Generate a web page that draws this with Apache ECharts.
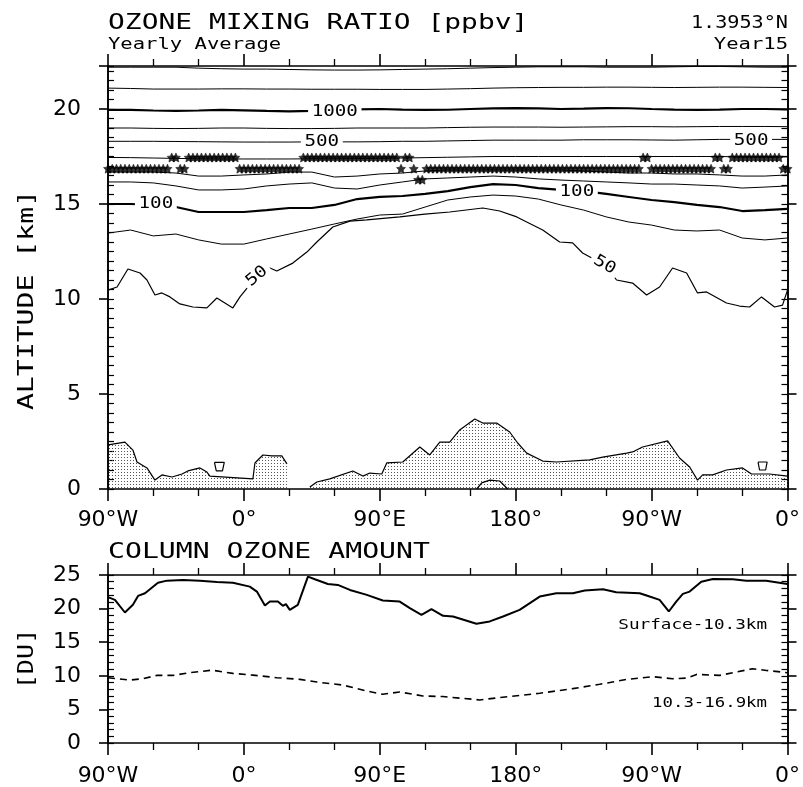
<!DOCTYPE html>
<html>
<head>
<meta charset="utf-8">
<script src="https://cdn.jsdelivr.net/npm/echarts@6/dist/echarts.min.js"></script>
<style>
html, body { margin: 0; padding: 0; background: #fff; }
#main { width: 803px; height: 787px; }
</style>
</head>
<body>
<div id="main"></div>
<script>
// longitude tick labels (-90 .. 360 every 90)
const lonTickLabels = ['90°W', '0°', '90°E', '180°', '90°W', '0°'];

// contour lines, altitude [km] on a 15 deg longitude grid
const lonGrid = [-90,-75,-60,-45,-30,-15,0,15,30,45,60,75,90,105,120,135,150,165,180,195,210,225,240,255,270,285,300,315,330,345,360];
const cTop1 = [22.2,22.2,22.2,22.2,22.15,22.12,22.1,22.1,22.08,22.06,22.05,22.05,22.06,22.08,22.1,22.12,22.15,22.18,22.2,22.22,22.22,22.22,22.2,22.2,22.2,22.22,22.24,22.24,22.22,22.2,22.2];
const cTop2 = [21.1,21.08,21.05,21.05,21.05,21.06,21.06,21.05,21.05,21.04,21.04,21.04,21.03,21.03,21.03,21.05,21.07,21.1,21.12,21.13,21.14,21.14,21.15,21.15,21.14,21.13,21.14,21.15,21.15,21.14,21.13];
const c1000 = [19.95,19.95,19.92,19.9,19.92,19.95,19.93,19.9,19.88,19.9,19.95,19.98,20.0,19.97,19.95,19.96,20.0,20.03,20.05,20.03,20.0,20.02,20.05,20.04,20.0,19.97,19.95,19.97,20.0,20.0,19.98];
const c700 = [19.0,19.0,18.98,18.97,18.98,19.0,19.0,18.98,18.97,18.97,18.98,19.0,19.0,19.0,19.0,19.02,19.04,19.05,19.05,19.05,19.04,19.05,19.06,19.07,19.07,19.06,19.07,19.08,19.08,19.08,19.07];
const c500 = [18.3,18.3,18.3,18.29,18.28,18.27,18.26,18.26,18.26,18.27,18.27,18.27,18.28,18.3,18.3,18.32,18.34,18.36,18.36,18.36,18.36,18.38,18.38,18.38,18.37,18.36,18.38,18.4,18.4,18.4,18.4];
const c400 = [17.45,17.44,17.42,17.4,17.38,17.37,17.37,17.37,17.37,17.38,17.38,17.39,17.4,17.42,17.44,17.46,17.48,17.5,17.5,17.5,17.5,17.5,17.5,17.5,17.5,17.5,17.5,17.5,17.48,17.48,17.48];
const c300 = [16.68,16.68,16.68,16.63,16.47,16.47,16.53,16.58,16.68,16.68,16.42,16.47,16.58,16.63,16.74,16.79,16.79,16.79,16.79,16.79,16.79,16.74,16.68,16.63,16.63,16.58,16.58,16.53,16.47,16.47,16.53];
const c200 = [16.16,16.16,16.11,15.95,15.74,15.74,15.79,15.95,16.05,16.11,15.84,15.79,16.0,16.16,16.32,16.37,16.42,16.47,16.42,16.32,16.26,16.21,16.16,16.11,16.05,16.05,16.0,15.95,15.84,15.89,15.95];
const c100 = [15.0,15.0,14.95,14.84,14.58,14.58,14.58,14.68,14.79,14.79,14.95,15.26,15.37,15.42,15.53,15.68,15.89,16.05,16.0,15.84,15.74,15.68,15.53,15.37,15.21,15.1,14.95,14.84,14.63,14.68,14.74];
const c70 = [13.47,13.63,13.32,13.42,13.11,12.89,12.89,13.16,13.42,13.68,13.95,14.21,14.42,14.47,14.84,15.21,15.37,15.47,15.42,15.26,14.95,14.68,14.32,14.05,13.89,13.63,13.58,13.63,13.21,13.11,13.21];

// 50 ppbv contour has its own (irregular) longitudes
const c50Lon = [-90,-84,-76.8,-68.8,-64.2,-58.9,-54.3,-49,-42.4,-33.8,-24.5,-17.9,-12.6,-7.3,-2.6,8.6,17.2,21.8,32.4,41.7,48.3,58.9,70.2,81.4,103.2,119.8,136.3,158.2,169.4,180.7,187.3,197.9,209.1,217.7,224.3,238.9,246.8,257.4,266.7,275.3,283.9,293.2,300.4,306.4,319.6,328.2,334.9,342.8,351.4,356.7,360];
const c50Alt = [10.47,10.63,11.58,11.37,11.0,10.21,10.32,10.11,9.74,9.58,9.53,10.05,9.79,9.53,10.11,11.2,11.63,11.47,11.89,12.47,13.0,13.79,14.1,14.16,14.32,14.47,14.58,14.79,14.63,14.32,14.05,13.63,13.0,12.95,12.42,11.79,11.0,10.84,10.21,10.63,11.63,11.37,10.32,10.37,9.79,9.63,9.58,10.11,9.58,9.68,10.47];

// surface topography [km]
const terrWestLon = [-90,-78.8,-73.5,-70.8,-64.2,-58.9,-54.3,-47.6,-41,-37.1,-29.1,-24.5,-22.5,5.96,7.3,12.6,18.5,25.1,28.5];
const terrWestAlt = [2.32,2.47,2.05,1.42,1.11,0.47,0.74,0.63,0.79,0.95,1.11,0.89,0.68,0.53,1.37,1.79,1.74,1.74,1.32];
const terrEastLon = [43.7,48.3,56.9,72.1,78.8,83.4,91.3,94.6,105.2,116.5,123.1,129.7,136.3,142.9,152.9,158.2,167.4,176,181.3,187.3,197.9,207.1,229,237.6,253.5,257.4,264,280.6,288.5,295.2,300.4,303.8,310.4,319.6,330.2,336.2,348.1,360];
const terrEastAlt = [0.1,0.37,0.53,0.95,0.68,0.84,0.79,1.37,1.42,2.21,1.79,2.47,2.47,3.11,3.68,3.47,3.47,3.0,2.42,1.89,1.47,1.42,1.53,1.68,1.89,1.95,2.21,2.53,1.63,1.16,0.47,0.74,0.74,1.0,1.11,0.79,0.79,0.68];
const humpLon = [154.2,157.5,162.8,169.4,174.7];
const humpAlt = [0,0.32,0.47,0.42,0];
const loopWestLon = [-19.5,-13,-14.2,-18.3,-19.5];
const loopWestAlt = [1.4,1.4,0.95,0.95,1.4];
const loopEastLon = [340.5,346.5,345.5,341.5,340.5];
const loopEastAlt = [1.42,1.42,1.0,1.0,1.42];

// tropopause markers: runs of [count, altitude] on the T42 grid
const tropoStart = -90;
const tropoStep = 2.8125;
const tropoRuns = [[15,16.86],[2,17.45],[2,16.86],[12,17.45],[15,16.86],[23,17.45],[1,16.86],[2,17.45],[1,16.86],[2,16.28],[51,16.86],[2,17.45],[15,16.86],[2,17.45],[2,16.86],[12,17.45],[2,16.86]];

// contour labels
const contourLabels = [
    { text: '1000', lon: 60.2, alt: 19.85, rot: 0 },
    { text: '500', lon: 51.6, alt: 18.29, rot: 0 },
    { text: '500', lon: 335.9, alt: 18.34, rot: 0 },
    { text: '100', lon: -58.3, alt: 15.0, rot: 0 },
    { text: '100', lon: 220.5, alt: 15.66, rot: 0 },
    { text: '50', lon: 8.6, alt: 11.2, rot: 40 },
    { text: '50', lon: 238.9, alt: 11.79, rot: -30 }
];

// column ozone [DU]
const surfLon = [-90,-85.4,-78.8,-73.5,-70.1,-65.5,-56.9,-51,-40.4,-29.1,-17.9,-7.3,3.9,8.6,13.9,17.2,22.5,25.8,27.8,30.4,35.7,42.4,47,55.6,62.2,70.2,81.4,92,103.2,109.9,117.6,124.2,131.9,138.5,154,162.8,171.6,182.6,195.9,206.9,217.9,225.7,237.8,246.6,262.1,268.7,275.3,281.4,286.3,290.7,295.2,302.9,310.6,323.8,332.7,345.9,360];
const surfDU = [21.7,21.3,19.42,20.56,21.89,22.29,23.86,24.16,24.26,24.16,23.96,23.86,23.27,22.53,20.46,21.05,21.05,20.41,20.67,19.82,20.56,24.75,24.36,23.67,23.52,22.78,22.04,21.2,21.05,20.07,19.08,19.93,18.93,18.83,17.75,18.09,18.83,19.82,21.79,22.29,22.29,22.68,22.88,22.44,22.29,21.79,21.3,19.57,21.05,22.19,22.53,24.01,24.41,24.36,24.16,24.16,23.67];
const upperLon = [-90,-75.4,-66.8,-57.6,-47,-35.7,-21.2,-7.3,6,21.8,37.1,48.3,65.5,81.4,92,103.2,118.5,131.7,156.2,169.4,195.9,217.7,235.6,253.5,270.7,283.9,293.2,299.8,315,336.8,346.1,360];
const upperDU = [9.72,9.36,9.57,10.06,10.06,10.46,10.84,10.36,10.1,9.72,9.47,9.07,8.62,7.74,7.25,7.59,7.0,6.91,6.41,6.76,7.4,8.09,8.73,9.47,9.87,9.57,9.66,10.21,10.06,11.05,10.8,10.46];

const pairs = (xs, ys) => xs.map((x, i) => [x, ys[i]]);

let main = document.querySelector('#main');
let chart = echarts.init(main, null, { renderer: 'canvas' });

// stippled fill for topography
let dots = document.createElement('canvas');
dots.width = 3;
dots.height = 3;
let dctx = dots.getContext('2d');
dctx.fillStyle = '#555';
dctx.fillRect(1, 1, 1, 1);

const ink = '#000';
const MONO = '"DejaVu Sans Mono"';
const topMax = 423 / 19;

function xAxes(gi, margin) {
    let base = {
        gridIndex: gi, type: 'value', min: -90, max: 360, interval: 90,
        axisLine: { show: true, onZero: false, lineStyle: { color: ink, width: 1.6 } },
        axisTick: { show: true, length: 12, lineStyle: { color: ink, width: 1.6 } },
        minorTick: { show: true, splitNumber: 3, length: 7, lineStyle: { color: ink, width: 1.3 } },
        splitLine: { show: false }
    };
    return [
        Object.assign({}, base, {
            position: 'bottom',
            axisLabel: {
                color: ink, fontSize: 22, fontFamily: 'DejaVu Sans', margin: margin,
                formatter: v => lonTickLabels[Math.round((v + 90) / 90)] || ''
            }
        }),
        Object.assign({}, base, { position: 'top', axisLabel: { show: false } })
    ];
}

function yAxes(gi, max, minorStep) {
    let line = { show: true, onZero: false, lineStyle: { color: ink, width: 1.6 } };
    let out = [];
    ['left', 'right'].forEach(pos => {
        out.push({
            gridIndex: gi, type: 'value', min: 0, max: max, interval: 5, position: pos,
            axisLine: line,
            axisTick: { show: true, length: 9, lineStyle: { color: ink, width: 1.6 } },
            axisLabel: {
                show: pos === 'left', color: ink, fontSize: 22, fontFamily: 'DejaVu Sans', margin: 27,
                formatter: v => (Math.abs(v % 5) < 1e-9 ? String(v) : '')
            },
            splitLine: { show: false }
        });
        out.push({
            gridIndex: gi, type: 'value', min: 0, max: max, interval: minorStep, position: pos,
            axisLine: line,
            axisTick: { show: true, inside: true, length: 6, lineStyle: { color: ink, width: 1.2 } },
            axisLabel: { show: false },
            splitLine: { show: false }
        });
    });
    return out;
}

function contour(alts, width) {
    return {
        type: 'line', xAxisIndex: 0, yAxisIndex: 0, data: pairs(lonGrid, alts),
        symbol: 'none', silent: true, z: 4,
        lineStyle: { color: ink, width: width }
    };
}

let tropo = [];
let k = 0;
tropoRuns.forEach(r => {
    for (let i = 0; i < r[0]; i++) {
        tropo.push([tropoStart + k * tropoStep, r[1]]);
        k++;
    }
});

const star = 'path://M0,-10L2.9,-4L9.5,-3.1L4.7,1.5L5.9,8.1L0,5L-5.9,8.1L-4.7,1.5L-9.5,-3.1L-2.9,-4Z';

let option = {
    animation: false,
    backgroundColor: '#fff',
    grid: [
        { left: 108, top: 66, width: 680, height: 423 },
        { left: 108, top: 575, width: 680, height: 169 }
    ],
    xAxis: xAxes(0, 20).concat(xAxes(1, 22)),
    yAxis: yAxes(0, topMax, 0.5).concat(yAxes(1, 25, 1)),
    series: [
        contour(cTop1, 1),
        contour(cTop2, 1),
        contour(c1000, 2.2),
        contour(c700, 1),
        contour(c500, 1),
        contour(c400, 1),
        contour(c300, 1),
        contour(c200, 1),
        contour(c100, 2.2),
        contour(c70, 1),
        {
            type: 'line', xAxisIndex: 0, yAxisIndex: 0, data: pairs(c50Lon, c50Alt),
            symbol: 'none', silent: true, z: 4, lineStyle: { color: ink, width: 1.2 }
        },
        {
            type: 'line', xAxisIndex: 0, yAxisIndex: 0, data: pairs(terrWestLon, terrWestAlt),
            symbol: 'none', silent: true, z: 2, lineStyle: { color: ink, width: 1.2 },
            areaStyle: { color: { image: dots, repeat: 'repeat' }, opacity: 1 }
        },
        {
            type: 'line', xAxisIndex: 0, yAxisIndex: 0, data: pairs(terrEastLon, terrEastAlt),
            symbol: 'none', silent: true, z: 2, lineStyle: { color: ink, width: 1.2 },
            areaStyle: { color: { image: dots, repeat: 'repeat' }, opacity: 1 }
        },
        {
            type: 'line', xAxisIndex: 0, yAxisIndex: 0, data: pairs(humpLon, humpAlt),
            symbol: 'none', silent: true, z: 3, lineStyle: { color: ink, width: 1.2 }
        },
        {
            type: 'line', xAxisIndex: 0, yAxisIndex: 0, data: pairs(loopWestLon, loopWestAlt),
            symbol: 'none', silent: true, z: 3, lineStyle: { color: ink, width: 1.2 }
        },
        {
            type: 'line', xAxisIndex: 0, yAxisIndex: 0, data: pairs(loopEastLon, loopEastAlt),
            symbol: 'none', silent: true, z: 3, lineStyle: { color: ink, width: 1.2 }
        },
        {
            type: 'scatter', xAxisIndex: 0, yAxisIndex: 0, data: tropo,
            symbol: star, symbolSize: 9, silent: true, z: 5,
            itemStyle: { color: ink, borderColor: ink, borderWidth: 0.6 }
        },
        // column ozone
        {
            type: 'line', xAxisIndex: 2, yAxisIndex: 4, data: pairs(surfLon, surfDU),
            symbol: 'none', silent: true, lineStyle: { color: ink, width: 2 }
        },
        {
            type: 'line', xAxisIndex: 2, yAxisIndex: 4, data: pairs(upperLon, upperDU),
            symbol: 'none', silent: true, lineStyle: { color: ink, width: 1.6, type: [7, 5] }
        }
    ]
};
chart.setOption(option);

function txt(text, x, y, size, scaleX, align, rot) {
    return {
        type: 'text', x: x, y: y, scaleX: scaleX, rotation: rot || 0, z: 20,
        style: { text: text, font: size + 'px ' + MONO, fill: ink, align: align, verticalAlign: 'middle' }
    };
}

let graphics = [
    txt('OZONE MIXING RATIO [ppbv]', 108, 24, 21, 1.33, 'left'),
    txt('Yearly Average', 108, 45, 15, 1.37, 'left'),
    txt('1.3953°N', 788, 23, 18, 1.12, 'right'),
    txt('Year15', 788, 45, 15, 1.37, 'right'),
    txt('ALTITUDE [km]', 28, 300, 21, 1.34, 'center', Math.PI / 2),
    txt('COLUMN OZONE AMOUNT', 108, 553, 21, 1.34, 'left'),
    txt('[DU]', 28, 659, 21, 1.2, 'center', Math.PI / 2),
    txt('Surface-10.3km', 767, 625, 14, 1.26, 'right'),
    txt('10.3-16.9km', 767, 703, 14, 1.24, 'right')
];

contourLabels.forEach(l => {
    let p = chart.convertToPixel({ seriesIndex: 0 }, [l.lon, l.alt]);
    graphics.push({
        type: 'text', x: p[0], y: p[1], scaleX: 1.2, rotation: l.rot * Math.PI / 180, z: 20,
        style: {
            text: l.text, font: '16px ' + MONO, fill: ink, align: 'center', verticalAlign: 'middle',
            backgroundColor: '#fff', padding: [1, 3]
        }
    });
});

chart.setOption({ graphic: graphics });
</script>
</body>
</html>
